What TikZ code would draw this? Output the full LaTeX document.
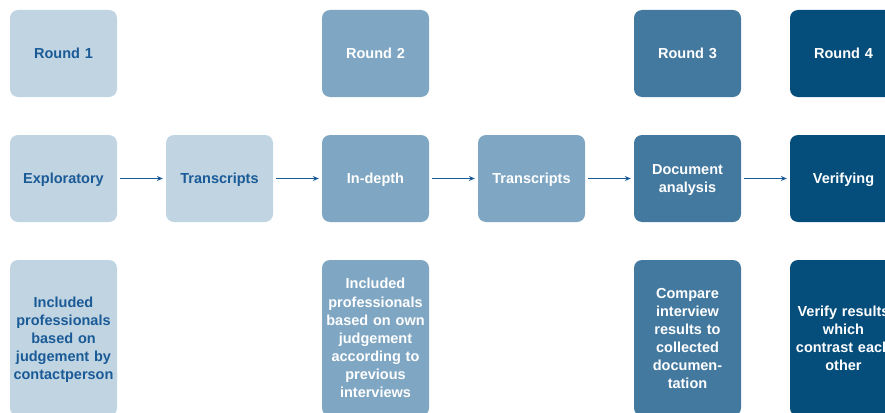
\documentclass[tikz,border=0pt]{standalone}
\usepackage{fontspec}
\setmainfont{Liberation Sans}
\usetikzlibrary{arrows.meta}
\definecolor{cA}{HTML}{C0D4E2}
\definecolor{cB}{HTML}{7FA6C2}
\definecolor{cC}{HTML}{44799F}
\definecolor{cD}{HTML}{054E7C}
\definecolor{txtA}{HTML}{1A5A96}
\tikzset{
  box/.style={rounded corners=8pt, minimum width=107pt, minimum height=87pt, inner sep=2pt,
    font=\fontsize{14.5}{18.1}\selectfont\bfseries, align=center, text width=103pt,
    text height=10.5pt, text depth=0pt},
  nl/.style={text depth=#1*18.1pt},
  tall/.style={box, minimum height=156pt},
  lA/.style={fill=cA, text=txtA},
  lB/.style={fill=cB, text=white},
  lC/.style={fill=cC, text=white},
  lD/.style={fill=cD, text=white},
  conn/.style={draw=txtA, line width=1pt, -{Stealth[length=6pt,width=5pt]}}
}
\begin{document}
\begin{tikzpicture}[x=1pt,y=-1pt]
\useasboundingbox (0,0) rectangle (885,412);
\clip (0,0) rectangle (885,412);
% row 1
\node[box,lA] (r1) at (63.5,53.5) {Round 1};
\node[box,lB] (r2) at (375.5,53.5) {Round 2};
\node[box,lC] (r3) at (687.5,53.5) {Round 3};
\node[box,lD] (r4) at (843.5,53.5) {Round 4};
% row 2
\node[box,lA] (m1) at (63.5,178.5) {Exploratory};
\node[box,lA] (m2) at (219.5,178.5) {Transcripts};
\node[box,lB] (m3) at (375.5,178.5) {In-depth};
\node[box,lB] (m4) at (531.5,178.5) {Transcripts};
\node[box,lC,nl=1] (m5) at (687.5,178.5) {Document\\analysis};
\node[box,lD] (m6) at (843.5,178.5) {Verifying};
% row 3
\node[tall,lA,nl=4] (b1) at (63.5,338) {Included\\professionals\\based on\\judgement by\\contactperson};
\node[tall,lB,nl=6] (b3) at (375.5,338) {Included\\professionals\\based on own\\judgement\\according to\\previous\\interviews};
\node[tall,lC,nl=5] (b5) at (687.5,338) {Compare\\interview\\results to\\collected\\documen-\\tation};
\node[tall,lD,nl=3] (b6) at (843.5,338) {Verify results\\which\\contrast each\\other};
% connectors
\draw[conn] ([xshift=3pt]m1.east) -- ([xshift=-3pt]m2.west);
\draw[conn] ([xshift=3pt]m2.east) -- ([xshift=-3pt]m3.west);
\draw[conn] ([xshift=3pt]m3.east) -- ([xshift=-3pt]m4.west);
\draw[conn] ([xshift=3pt]m4.east) -- ([xshift=-3pt]m5.west);
\draw[conn] ([xshift=3pt]m5.east) -- ([xshift=-3pt]m6.west);
\end{tikzpicture}
\end{document}
